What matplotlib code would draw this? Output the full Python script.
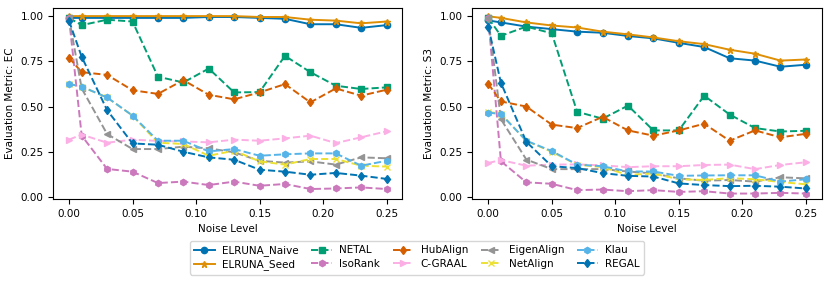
import numpy as np
import matplotlib
matplotlib.use('Agg')
import matplotlib.pyplot as plt

noise = [0.0, 0.01, 0.03, 0.05, 0.07, 0.09, 0.11, 0.13, 0.15, 0.17, 0.19, 0.21, 0.23, 0.25]

# Evaluation metric: EC
ec_naive = [0.99, 0.99, 0.99, 0.99, 0.99, 0.99, 0.995, 0.995, 0.99, 0.985, 0.955, 0.955, 0.935, 0.95]
ec_seed = [1.0, 1.0, 1.0, 1.0, 1.0, 1.0, 1.0, 1.0, 0.995, 0.995, 0.98, 0.975, 0.96, 0.97]
ec_netal = [0.99, 0.95, 0.98, 0.97, 0.665, 0.633, 0.71, 0.578, 0.58, 0.78, 0.69, 0.615, 0.597, 0.606]
ec_isorank = [0.99, 0.339, 0.155, 0.14, 0.077, 0.085, 0.066, 0.085, 0.062, 0.072, 0.044, 0.047, 0.053, 0.044]
ec_hubalign = [0.77, 0.69, 0.675, 0.59, 0.57, 0.646, 0.565, 0.54, 0.578, 0.624, 0.523, 0.60, 0.56, 0.593]
ec_cgraal = [0.317, 0.345, 0.30, 0.317, 0.31, 0.307, 0.302, 0.317, 0.311, 0.324, 0.339, 0.298, 0.33, 0.363]
ec_eigen = [0.99, 0.60, 0.348, 0.265, 0.265, 0.278, 0.269, 0.247, 0.20, 0.19, 0.197, 0.179, 0.219, 0.214]
ec_netalign = [0.625, 0.61, 0.55, 0.45, 0.30, 0.293, 0.228, 0.256, 0.197, 0.179, 0.21, 0.21, 0.173, 0.168]
ec_klau = [0.625, 0.61, 0.55, 0.45, 0.311, 0.311, 0.252, 0.265, 0.228, 0.236, 0.241, 0.241, 0.173, 0.20]
ec_regal = [0.974, 0.775, 0.48, 0.296, 0.289, 0.25, 0.219, 0.206, 0.151, 0.14, 0.123, 0.133, 0.118, 0.10]

# Evaluation metric: S3
s3_naive = [0.976, 0.965, 0.942, 0.928, 0.914, 0.908, 0.89, 0.877, 0.852, 0.829, 0.767, 0.754, 0.72, 0.731]
s3_seed = [0.999, 0.99, 0.965, 0.948, 0.937, 0.914, 0.899, 0.882, 0.861, 0.845, 0.814, 0.792, 0.754, 0.76]
s3_netal = [0.99, 0.891, 0.942, 0.905, 0.471, 0.433, 0.505, 0.368, 0.368, 0.56, 0.456, 0.381, 0.362, 0.366]
s3_isorank = [0.99, 0.198, 0.081, 0.073, 0.038, 0.041, 0.032, 0.038, 0.028, 0.032, 0.019, 0.019, 0.023, 0.019]
s3_hubalign = [0.626, 0.528, 0.50, 0.40, 0.381, 0.443, 0.368, 0.339, 0.368, 0.405, 0.311, 0.368, 0.33, 0.349]
s3_cgraal = [0.188, 0.204, 0.173, 0.179, 0.18, 0.175, 0.165, 0.17, 0.17, 0.177, 0.179, 0.154, 0.177, 0.192]
s3_eigen = [0.99, 0.43, 0.207, 0.154, 0.154, 0.154, 0.141, 0.13, 0.103, 0.09, 0.094, 0.085, 0.109, 0.103]
s3_netalign = [0.47, 0.46, 0.31, 0.25, 0.179, 0.165, 0.122, 0.13, 0.098, 0.094, 0.104, 0.098, 0.083, 0.07]
s3_klau = [0.467, 0.458, 0.311, 0.254, 0.179, 0.17, 0.141, 0.141, 0.117, 0.119, 0.12, 0.12, 0.085, 0.098]
s3_regal = [0.942, 0.631, 0.305, 0.17, 0.16, 0.132, 0.117, 0.113, 0.075, 0.066, 0.06, 0.062, 0.057, 0.047]

methods = ['ELRUNA_Naive', 'ELRUNA_Seed', 'NETAL', 'IsoRank', 'HubAlign',
           'C-GRAAL', 'EigenAlign', 'NetAlign', 'Klau', 'REGAL']
ec_data = [ec_naive, ec_seed, ec_netal, ec_isorank, ec_hubalign,
           ec_cgraal, ec_eigen, ec_netalign, ec_klau, ec_regal]
s3_data = [s3_naive, s3_seed, s3_netal, s3_isorank, s3_hubalign,
           s3_cgraal, s3_eigen, s3_netalign, s3_klau, s3_regal]

colors = ['#0173b2', '#de8f05', '#029e73', '#cc78bc', '#d55e00',
          '#fbafe4', '#949494', '#ece133', '#56b4e9', '#0173b2']
markers = ['o', '*', 's', 'h', 'd', '>', '<', 'x', 'h', 'd']
styles = ['-', '-', '--', '--', '--', '--', '--', '--', '--', '--']

plt.rcParams['font.size'] = 7.5

fig, axes = plt.subplots(1, 2, figsize=(8.3, 2.84), dpi=100)
fig.subplots_adjust(left=0.064, right=0.99, top=0.972, bottom=0.30, wspace=0.2)

for ax, data, metric in zip(axes, [ec_data, s3_data], ['EC', 'S3']):
    for name, vals, c, m, ls in zip(methods, data, colors, markers, styles):
        ax.plot(noise, vals, color=c, marker=m, linestyle=ls, linewidth=1.4,
                markersize=4.5, label=name)
    ax.set_xlabel('Noise Level')
    ax.set_ylabel('Evaluation Metric: ' + metric)
    ax.set_xticks([0.0, 0.05, 0.10, 0.15, 0.20, 0.25])
    ax.set_yticks([0.0, 0.25, 0.5, 0.75, 1.0])
    ax.set_ylim(-0.01, 1.045)
    ax.set_xlim(-0.0125, 0.2625)

handles, labels = axes[0].get_legend_handles_labels()
fig.legend(handles, labels, loc='lower center', ncol=5, bbox_to_anchor=(0.502, 0.015),
           frameon=True, columnspacing=1.2, handlelength=2.0, handletextpad=0.7,
           borderpad=0.4, labelspacing=0.3, fontsize=7.5)

fig.savefig('out.png', dpi=100)
